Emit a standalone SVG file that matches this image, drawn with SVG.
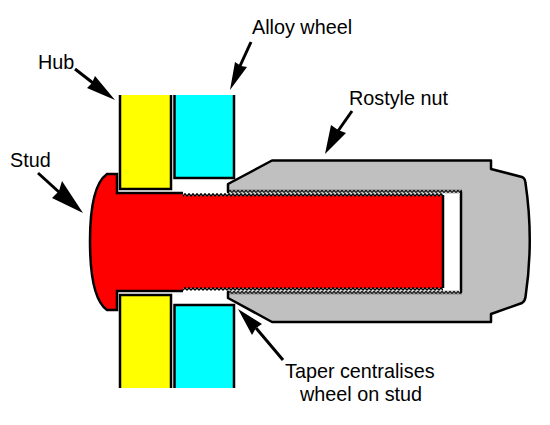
<svg xmlns="http://www.w3.org/2000/svg" width="550" height="425" viewBox="0 0 550 425">
<style>
.o{stroke:#000;stroke-width:2.5;fill:none}
.y{fill:#ff0}.c{fill:#0ff}
text{font-family:"Liberation Sans",Arial,sans-serif;font-size:19.800px;fill:#000}
.l{stroke:#000;stroke-width:3;fill:none}
.h{fill:#000}
</style>
<defs>
<pattern id="zig" width="4" height="4" patternUnits="userSpaceOnUse">
<polyline points="0,3.200 2,0.800 4,3.200" fill="none" stroke="#000" stroke-width="1.400"/>
</pattern>
</defs>
<rect width="550" height="425" fill="#fff"/>
<g id="nut">
<path d="M228 184L272 160.500H491V169L522 177Q525 178 525.500 183Q534 240 525.500 297Q525 301 522 303L491 314V322H272L228 298V292H461V192H228Z" fill="#c0c0c0" stroke="#000" stroke-width="2.500" stroke-linejoin="round"/>
<rect x="229" y="190.500" width="231" height="3.500" fill="#fff"/>
<rect x="229" y="290" width="231" height="3.500" fill="#fff"/>
<rect width="234" height="4" fill="url(#zig)" transform="translate(228,189.500)"/>
<rect width="234" height="4" fill="url(#zig)" transform="translate(228,290.500)"/>
</g>
<g id="stud">
<path d="M117 193H183V195.500H443V288H183V291H117V310H107Q90 298 90 241Q90 186 107 174H117Z" fill="#f00"/>
<path d="M443 195V288" class="o"/>
<path d="M183 193H117V174H107Q90 186 90 241Q90 298 107 310H117V291H183" class="o"/>
<rect width="260" height="4" fill="url(#zig)" transform="translate(183,193)"/>
<rect width="260" height="4" fill="url(#zig)" transform="translate(183,287)"/>
</g>
<g id="hub">
<path class="y" d="M120 95H171V189H120Z"/>
<path class="o" d="M120 95V189H171V95"/>
<path class="y" d="M120 295H171V388H120Z"/>
<path class="o" d="M120 388V295H171V388"/>
</g>
<g id="wheel">
<path class="c" d="M174.500 95H234V178H174.500Z"/>
<path class="o" d="M174.500 95V178H234V95"/>
<path class="c" d="M174.500 305H234V388H174.500Z"/>
<path class="o" d="M174.500 388V305H234V388"/>
</g>
<g id="connectors">
<path class="l" d="M75 69L93 83"/><path class="h" d="M115 100L87 88L92 83L95 76Z"/>
<path class="l" d="M251 42L240 66"/><path class="h" d="M230 90L235 62L241 66L247 67Z"/>
<path class="l" d="M38 173L60 193"/><path class="h" d="M83 213L52 198L59 191L62 181Z"/>
<path class="l" d="M352 111L338 131"/><path class="h" d="M325 154L331 125L338 130L346 133Z"/>
<path class="l" d="M283 360L256 328"/><path class="h" d="M238 309L262 324L256 328L252 335Z"/>
</g>
<g id="labels">
<text x="38" y="69">Hub</text>
<text x="252" y="34">Alloy wheel</text>
<text x="349" y="105">Rostyle nut</text>
<text x="10" y="167">Stud</text>
<text x="285" y="378">Taper centralises</text>
<text x="300" y="401">wheel on stud</text>
</g>
</svg>
